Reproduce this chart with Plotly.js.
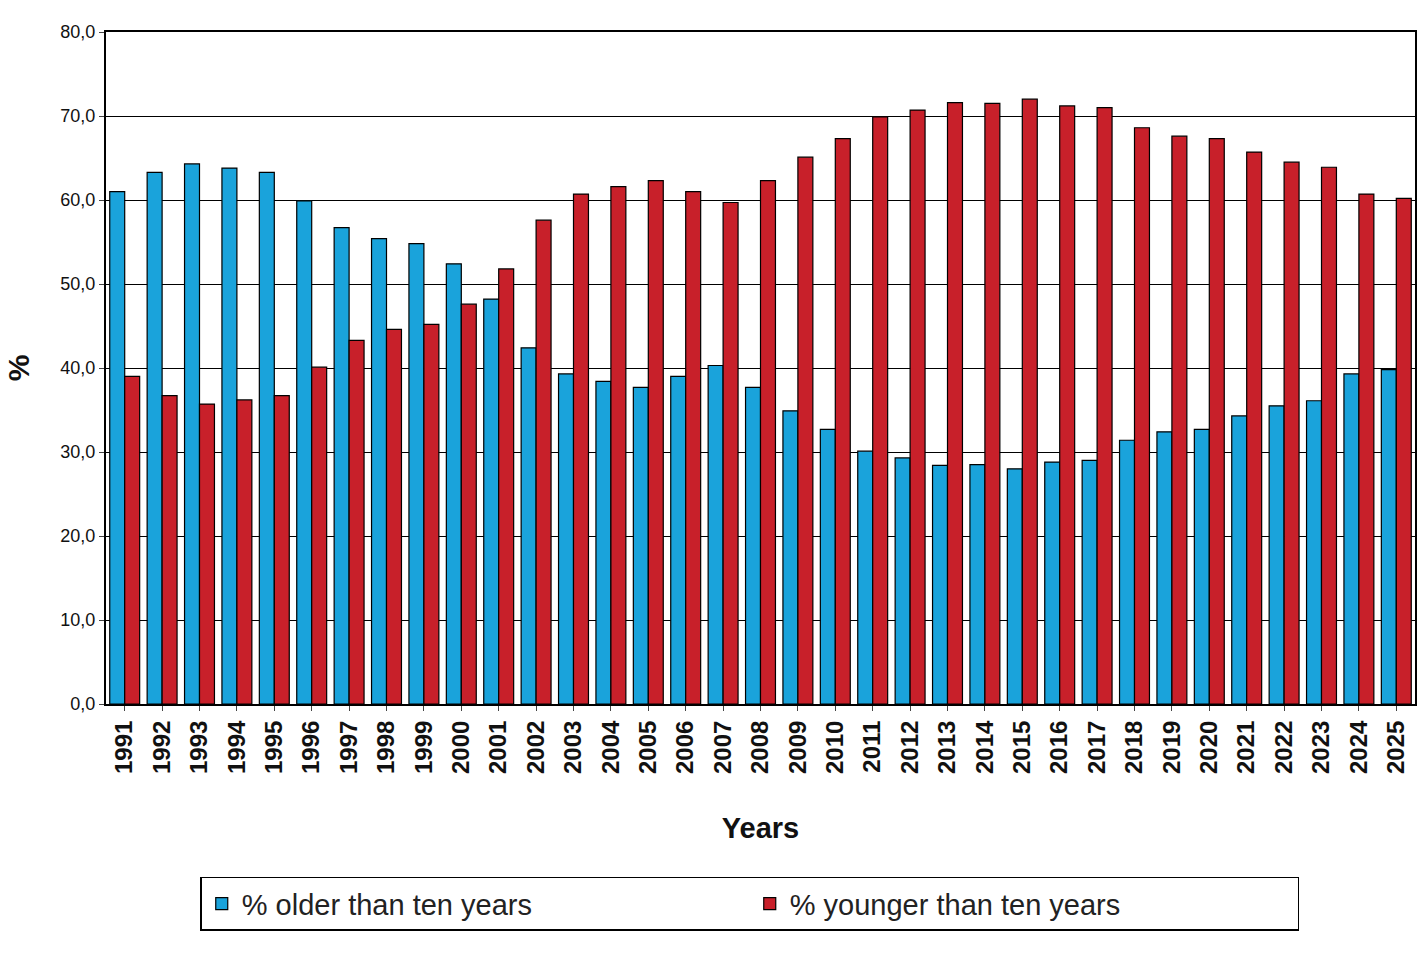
<!DOCTYPE html>
<html>
<head>
<meta charset="utf-8">
<script src="https://cdn.plot.ly/plotly-3.0.1.min.js"></script>
<style>body{margin:0;background:#fff}#chart{width:1426px;height:955px}</style>
</head>
<body>
<div id="chart"></div>
<script>
"use strict"
const years = ["1991","1992","1993","1994","1995","1996","1997","1998","1999","2000","2001","2002","2003","2004","2005","2006","2007","2008","2009","2010","2011","2012","2013","2014","2015","2016","2017","2018","2019","2020","2021","2022","2023","2024","2025"]
const older = [61.0,63.3,64.3,63.8,63.3,59.9,56.7,55.4,54.8,52.4,48.2,42.4,39.3,38.4,37.7,39.0,40.3,37.7,34.9,32.7,30.1,29.3,28.4,28.5,28.0,28.8,29.0,31.4,32.4,32.7,34.3,35.5,36.1,39.3,39.8]
const younger = [39.0,36.7,35.7,36.2,36.7,40.1,43.3,44.6,45.2,47.6,51.8,57.6,60.7,61.6,62.3,61.0,59.7,62.3,65.1,67.3,69.9,70.7,71.6,71.5,72.0,71.2,71.0,68.6,67.6,67.3,65.7,64.5,63.9,60.7,60.2]

const font = "Liberation Sans, Arial, sans-serif"
const traces = [
  {x:years, y:older, type:"bar", name:"% older than ten years",
   marker:{color:"#1aa3db", line:{color:"#000", width:1.2}}},
  {x:years, y:younger, type:"bar", name:"% younger than ten years",
   marker:{color:"#c8202a", line:{color:"#000", width:1.2}}},
]
const layout = {
  width:1426, height:955,
  separators:",.",
  bargap:0.2, bargroupgap:0,
  margin:{l:106, r:11, t:32, b:251},
  paper_bgcolor:"#fff", plot_bgcolor:"#fff",
  font:{family:font, color:"#111"},
  showlegend:true,
  legend:{orientation:"h", x:0.072, y:-0.257, xanchor:"left", yanchor:"top",
    bordercolor:"#000", borderwidth:1.5, entrywidth:503,
    font:{size:29, color:"#222"}, itemwidth:30},
  xaxis:{type:"category", tickangle:-90, tickfont:{size:24, color:"#111", weight:"bold"},
    showline:true, mirror:true, linecolor:"#000", linewidth:2, ticks:"outside", ticklen:5,
    title:{text:"Years", font:{size:29, weight:"bold"}, standoff:45}},
  yaxis:{range:[0,80], dtick:10, tickformat:".1f", tickfont:{size:18, color:"#111"},
    showgrid:true, gridcolor:"#000", gridwidth:1,
    showline:true, mirror:true, linecolor:"#000", linewidth:2, ticks:"outside", ticklen:5,
    title:{text:"%", font:{size:30, weight:"bold"}, standoff:22}},
}
Plotly.newPlot("chart", traces, layout, {displayModeBar:false, staticPlot:true})
</script>
</body>
</html>
